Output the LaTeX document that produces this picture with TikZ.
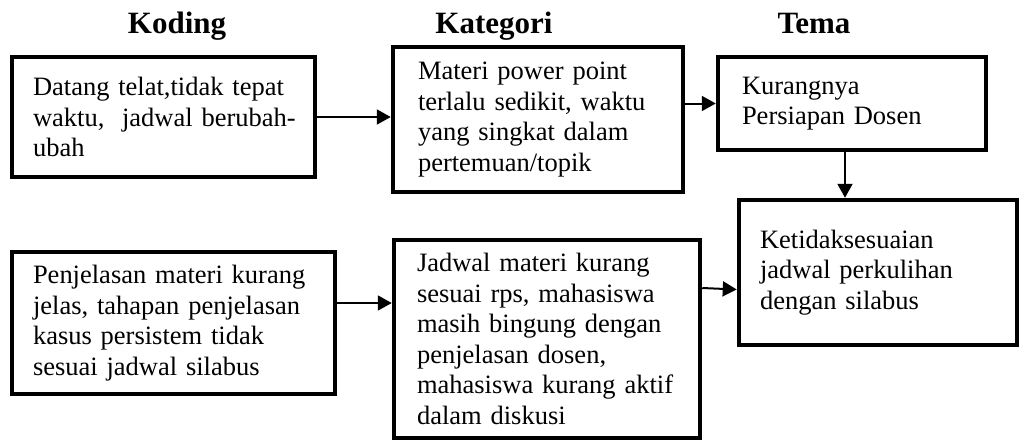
\documentclass[tikz,border=0pt]{standalone}
\usepackage{fontspec}
\setmainfont{Liberation Serif}
\usetikzlibrary{arrows.meta}

\begin{document}
\begin{tikzpicture}[x=1pt, y=-1pt,
  box/.style={draw, line width=4.5pt, inner sep=0pt, align=left,
    font=\fontsize{26.5pt}{30.5pt}\selectfont,
    execute at begin node={\setlength{\baselineskip}{30.5pt}}},
  head/.style={anchor=base, font=\fontsize{31pt}{35pt}\selectfont\bfseries},
  arr/.style={line width=2pt, -{Triangle[length=14pt, width=15pt]}}]
\useasboundingbox (0,0) rectangle (1021,440);
\node[head] (hkoding) at (177,33) {Koding};
\node[head] (hkategori) at (494,33) {Kategori};
\node[head] (htema) at (814,33) {Tema};
\node[box, minimum width=303pt, minimum height=120pt, text width=261pt] (datang) at (163.5,117)
  {Datang telat,tidak tepat\\ \mbox{waktu,~ jadwal berubah-}\\ ubah};
\node[box, minimum width=290pt, minimum height=145pt, text width=240pt] (materi) at (538,119.5)
  {Materi power point\\ terlalu sedikit, waktu\\ yang singkat dalam\\ pertemuan/topik};
\node[box, minimum width=268pt, minimum height=93pt, text width=220pt] (kurang) at (852,103.5)
  {Kurangnya\\ Persiapan Dosen};
\node[box, minimum width=323pt, minimum height=142pt, text width=281pt] (penjelasan) at (173.5,323)
  {Penjelasan materi kurang\\ jelas, tahapan penjelasan\\ kasus persistem tidak\\ sesuai jadwal silabus};
\node[box, minimum width=306pt, minimum height=198pt, text width=260pt] (jadwal) at (547,339)
  {Jadwal materi kurang\\ sesuai rps, mahasiswa\\ masih bingung dengan\\ penjelasan dosen,\\ mahasiswa kurang aktif\\ dalam diskusi};
\node[box, minimum width=278pt, minimum height=145pt, text width=236pt] (ketidak) at (878,272.5)
  {Ketidaksesuaian\\ jadwal perkulihan\\ dengan silabus};
\draw[arr] (datang.east) -- (datang.east -| materi.west);
\draw[arr] (materi.east |- kurang.west) -- (kurang.west);
\draw[arr] ([xshift=-7pt]kurang.south) -- ([xshift=-7pt]kurang.south |- ketidak.north);
\draw[arr] ([yshift=20pt]penjelasan.east) -- ([yshift=20pt]penjelasan.east -| jadwal.west);
\draw[arr] ([yshift=51pt]jadwal.east) -- ([yshift=-17pt]ketidak.west);
\end{tikzpicture}
\end{document}
